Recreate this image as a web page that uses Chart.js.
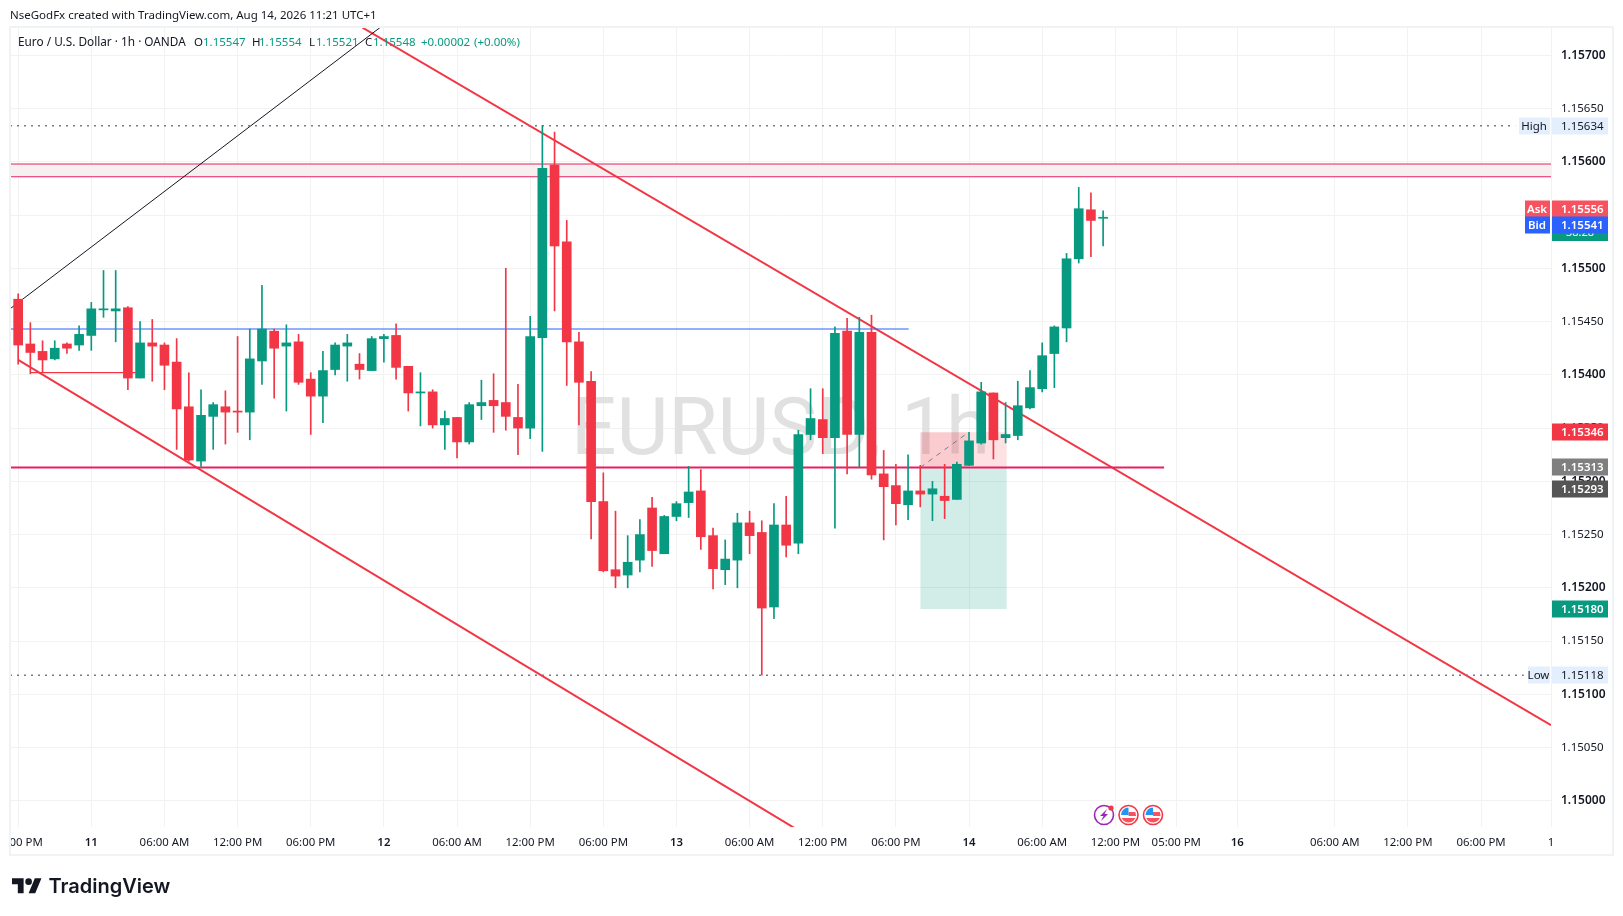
<!DOCTYPE html>
<html><head><meta charset="utf-8">
<style>html,body{margin:0;padding:0;background:#fff}canvas{display:block}</style>
<script src="https://cdn.jsdelivr.net/npm/chart.js@4"></script>
</head><body>
<canvas id="c" width="1623" height="916"></canvas>
<script>
const opens=[1.15471,1.15429,1.15422,1.15415,1.15429,1.15428,1.15437,1.15461,1.15460,1.15463,
1.15397,1.15430,1.15428,1.15412,1.15370,1.15319,1.15361,1.15370,1.15366,1.15365,
1.15413,1.15441,1.15427,1.15431,1.15396,1.15380,1.15405,1.15427,1.15410,1.15404,
1.15434,1.15437,1.15408,1.15383,1.15384,1.15353,1.15360,1.15337,1.15371,1.15376,
1.15374,1.15360,1.15350,1.15435,1.15597,1.15525,1.15431,1.15394,1.15281,1.15217,
1.15212,1.15226,1.15275,1.15232,1.15267,1.15280,1.15291,1.15249,1.15217,1.15226,
1.15261,1.15252,1.15182,1.15259,1.15242,1.15344,1.15358,1.15341,1.15441,1.15344,
1.15440,1.15307,1.15296,1.15278,1.15291,1.15288,1.15286,1.15283,1.15315,1.15336,
1.15383,1.15341,1.15343,1.15369,1.15387,1.15420,1.15444,1.15509,1.15555,1.15547];
const closes=[1.15428,1.15421,1.15414,1.15425,1.15425,1.15438,1.15462,1.15462,1.15462,1.15397,
1.15430,1.15427,1.15409,1.15368,1.15320,1.15362,1.15372,1.15365,1.15365,1.15415,
1.15443,1.15425,1.15430,1.15393,1.15380,1.15404,1.15428,1.15430,1.15405,1.15434,
1.15436,1.15407,1.15383,1.15384,1.15353,1.15359,1.15337,1.15372,1.15374,1.15371,
1.15361,1.15350,1.15436,1.15594,1.15521,1.15431,1.15393,1.15281,1.15216,1.15211,
1.15224,1.15250,1.15235,1.15267,1.15279,1.15290,1.15248,1.15218,1.15227,1.15261,
1.15249,1.15181,1.15259,1.15240,1.15344,1.15359,1.15341,1.15439,1.15344,1.15440,
1.15306,1.15295,1.15279,1.15291,1.15288,1.15293,1.15282,1.15316,1.15338,1.15384,
1.15339,1.15344,1.15371,1.15388,1.15418,1.15445,1.15509,1.15556,1.15545,1.15548];
const highs=[1.15476,1.15449,1.15432,1.15432,1.15430,1.15446,1.15468,1.15498,1.15498,1.15464,
1.15450,1.15452,1.15430,1.15434,1.15402,1.15386,1.15374,1.15385,1.15436,1.15443,
1.15484,1.15443,1.15447,1.15438,1.15402,1.15422,1.15430,1.15438,1.15420,1.15436,
1.15438,1.15448,1.15408,1.15402,1.15386,1.15366,1.15360,1.15374,1.15395,1.15401,
1.15500,1.15391,1.15455,1.15634,1.15628,1.15545,1.15440,1.15403,1.15308,1.15272,
1.15249,1.15264,1.15285,1.15268,1.15281,1.15314,1.15311,1.15256,1.15245,1.15270,
1.15272,1.15263,1.15279,1.15286,1.15348,1.15387,1.15387,1.15445,1.15453,1.15454,
1.15456,1.15329,1.15316,1.15325,1.15315,1.15300,1.15316,1.15318,1.15346,1.15393,
1.15383,1.15374,1.15394,1.15404,1.15430,1.15446,1.15514,1.15576,1.15571,1.15554];
const lows=[1.15410,1.15401,1.15402,1.15414,1.15420,1.15423,1.15423,1.15454,1.15431,1.15386,
1.15397,1.15394,1.15386,1.15330,1.15319,1.15314,1.15330,1.15335,1.15346,1.15339,
1.15391,1.15378,1.15366,1.15391,1.15344,1.15355,1.15400,1.15394,1.15396,1.15404,
1.15412,1.15396,1.15366,1.15352,1.15350,1.15330,1.15322,1.15335,1.15358,1.15346,
1.15348,1.15325,1.15340,1.15328,1.15460,1.15390,1.15353,1.15246,1.15215,1.15200,
1.15200,1.15215,1.15220,1.15232,1.15263,1.15266,1.15236,1.15199,1.15203,1.15200,
1.15232,1.15118,1.15171,1.15229,1.15232,1.15339,1.15326,1.15256,1.15307,1.15313,
1.15302,1.15245,1.15259,1.15264,1.15276,1.15263,1.15265,1.15283,1.15315,1.15335,
1.15321,1.15336,1.15339,1.15368,1.15384,1.15388,1.15431,1.15505,1.15511,1.15521];

const yTicks=[1.15000,1.15050,1.15100,1.15150,1.15200,1.15250,1.15300,1.15350,1.15400,1.15450,1.15500,1.15550,1.15600,1.15650,1.15700];
const yMajorTicks=[1.15000,1.15100,1.15200,1.15300,1.15400,1.15500,1.15600,1.15700];
const xTickBars=[0,6,12,18,24,30,36,42,48,54,60,66,72,78,84,90,95,100,108,114,120,125.74];
const xTickLabels=["06:00 PM","11","06:00 AM","12:00 PM","06:00 PM","12","06:00 AM","12:00 PM","06:00 PM","13","06:00 AM","12:00 PM","06:00 PM","14","06:00 AM","12:00 PM","05:00 PM","16","06:00 AM","12:00 PM","06:00 PM","1"];
const xMajorLabels=["11","12","13","14","16"];

const highPrice=1.15634, lowPrice=1.15118, highEndBar=122.8, lowEndBar=123.5;
const zoneTop=1.15598, zoneBottom=1.15586;
const supportPrice=1.15313, supportEndBar=94;
const blueLinePrice=1.15443, blueLineEndBar=73.05;
const shortLinePrice=1.15402, shortLineStart=1, shortLineEnd=9.65;
const blackLineBars=[-0.67,29.67], blackLinePrices=[1.15462,1.15726];
const upperTrendBars=[28.25,125.74], upperTrendPrices=[1.15726,1.15071];
const lowerTrendBars=[0,63.89], lowerTrendPrices=[1.15414,1.14973];
const positionStart=74, positionEnd=81.1, positionHit=77.95;
const positionStop=1.15346, positionEntry=1.15313, positionTarget=1.15180;

const priceTags=[1.15548,1.15634,1.15118,1.15556,1.15541,1.15346,1.15313,1.15293,1.15180];
const priceTagNames=["","High","Low","Ask","Bid","","","",""];
const priceTagColors=["#089981","#e3effd","#e3effd","#f7525f","#2962ff","#f23645","#7f7f7f","#555555","#089981"];
const countdownText="38:28";
const watermarkText="EURUSD, 1h";
const creditText="NseGodFx created with TradingView.com, Aug 14, 2026 11:21 UTC+1";
const symbolText="Euro / U.S. Dollar · 1h · OANDA";
const ohlcLetters=["O","H","L","C"];
const ohlcValues=["1.15547","1.15554","1.15521","1.15548"];
const changeText="+0.00002", changePctText="(+0.00%)";

const UP="#089981",DOWN="#f23645",CRIMSON="#e91e63";
const FONT="'Noto Sans'";
const isUp=i=>closes[i]>=opens[i];
const candleColors=opens.map((_,i)=>isUp(i)?UP:DOWN);
const seg=(xs,ys)=>xs.map((x,i)=>({x,y:ys[i]}));
const X0=-0.67,X1=125.74;
const line=(data,color,width,extra)=>Object.assign({type:'line',data,borderColor:color,borderWidth:width,pointRadius:0,fill:false,tension:0,order:5},extra||{});
const flat=(a,b,p)=>seg([a,b],[p,p]);

const sceneBack={id:'sceneBack',beforeDatasetsDraw(ch){
  const c=ch.ctx,a=ch.chartArea;
  c.save();c.beginPath();c.rect(a.left,a.top,a.width,a.height);c.clip();
  c.fillStyle='#e1e1e1';c.font="80px Roboto";c.textAlign='center';c.textBaseline='middle';
  c.fillText(watermarkText,(a.left+a.right)/2,434);
  c.restore();
}};
const sceneFront={id:'sceneFront',afterDraw(ch){
  const c=ch.ctx,y=ch.scales.y;
  c.save();
  c.fillStyle='#fff';c.fillRect(0,828,10,26);
  c.strokeStyle='#f0f3f6';c.lineWidth=2;c.strokeRect(10,27,1603,828);
  c.textBaseline='middle';
  c.textAlign='left';c.fillStyle='#131722';c.font="11.5px "+FONT;
  c.fillText(creditText,10,16);
  c.font="11.8px "+FONT;
  c.fillText(symbolText,18,43);
  c.font="11.5px "+FONT;
  const lx=[194,252,309,365],vx=[203,259,316,373];
  ohlcLetters.forEach((t,i)=>{c.fillStyle='#131722';c.fillText(t,lx[i],43);c.fillStyle=UP;c.fillText(ohlcValues[i],vx[i],43);});
  c.fillStyle=UP;c.fillText(changeText,421,43);c.fillText(changePctText,474,43);
  priceTags.forEach((v,i)=>{
    const py=Math.round(y.getPixelForValue(v));
    const col=priceTagColors[i],light=col==='#e3effd',name=priceTagNames[i];
    c.fillStyle=col;
    if(i===0){c.fillRect(1552,py-8,56,32);c.fillStyle='#fff';c.font="11px "+FONT;c.textAlign='left';c.fillText(countdownText,1566,py+16);return;}
    c.fillRect(1552,py-8.5,56,17);
    c.font=(light?"":"600 ")+"11.5px "+FONT;c.textAlign='left';c.fillStyle=light?'#131722':'#fff';
    c.fillText(v.toFixed(5),1561,py+1);
    if(name){const w=name==='High'?32:name==='Low'?23:26;
      c.fillStyle=col;c.fillRect(1551-w,py-8.5,w-1,17);
      c.fillStyle=light?'#131722':'#fff';c.textAlign='center';c.fillText(name,1550-w/2,py+1);}
  });
  [1104,1128.5,1153].forEach((ix,k)=>{
    const iy=815;
    c.beginPath();c.arc(ix,iy,9.5,0,Math.PI*2);c.fillStyle='#fff';c.fill();
    c.lineWidth=1.6;c.strokeStyle=k===0?'#9c27b0':'#f23645';c.stroke();
    if(k===0){
      c.fillStyle='#9c27b0';c.beginPath();c.moveTo(ix+3,iy-6);c.lineTo(ix-4,iy+1);c.lineTo(ix-0.5,iy+1);c.lineTo(ix-3,iy+6);c.lineTo(ix+4,iy-1);c.lineTo(ix+0.5,iy-1);c.closePath();c.fill();
      c.fillStyle='#f23645';c.beginPath();c.arc(ix+7,iy-7,2.6,0,Math.PI*2);c.fill();
    }else{
      c.save();c.beginPath();c.arc(ix,iy,7.5,0,Math.PI*2);c.clip();
      c.fillStyle='#fff';c.fillRect(ix-8,iy-8,16,16);
      c.fillStyle='#f7525f';c.fillRect(ix,iy-3,8,4);c.fillRect(ix-8,iy+3,16,6);
      c.fillStyle='#2196f3';c.fillRect(ix-8,iy-8,8,8);
      c.restore();
    }
  });
  c.fillStyle='#131722';
  c.save();c.translate(12,875);c.scale(0.83,0.83);
  c.fill(new Path2D("M14 22H7V11H0V4h14v18zM28 22h-8l7.5-18h8L28 22z"));
  c.beginPath();c.arc(20,8,4,0,Math.PI*2);c.fill();c.restore();
  c.font="600 20px Inter";c.textAlign='left';c.fillText("TradingView",48.5,887);
  c.restore();
}};

new Chart(document.getElementById('c'),{
  type:'bar',
  data:{datasets:[
    {label:'wicks',data:opens.map((_,i)=>({x:i,y:[lows[i],highs[i]]})),backgroundColor:candleColors,barThickness:1,grouped:false,order:2},
    {label:'bodies',data:opens.map((_,i)=>({x:i,y:[opens[i],closes[i]]})),backgroundColor:candleColors,barThickness:9,grouped:false,order:1},
    line(flat(X0,X1,zoneTop),CRIMSON,1.2,{fill:{value:zoneBottom},backgroundColor:'#f6f0f1',order:7}),
    line(flat(X0,X1,zoneBottom),CRIMSON,1.2,{order:6}),
    line(flat(positionStart,positionEnd,positionStop),'rgba(0,0,0,0)',0,{fill:{value:positionEntry},backgroundColor:'rgba(242,54,69,0.15)',order:8}),
    line(flat(positionStart,positionHit,positionStop),'rgba(0,0,0,0)',0,{fill:{value:positionEntry},backgroundColor:'rgba(242,54,69,0.12)',order:8}),
    line(flat(positionStart,positionEnd,positionEntry),'rgba(0,0,0,0)',0,{fill:{value:positionTarget},backgroundColor:'rgba(8,153,129,0.18)',order:8}),
    line(seg([positionStart,positionHit],[positionEntry,positionStop]),'#787b86',1,{borderDash:[5,5],order:4}),
    line(flat(X0,highEndBar,highPrice),'#787b86',1.5,{borderDash:[2,5]}),
    line(flat(X0,lowEndBar,lowPrice),'#787b86',1.5,{borderDash:[2,5]}),
    line(flat(X0,blueLineEndBar,blueLinePrice),'#2962ff',1.1),
    line(flat(shortLineStart,shortLineEnd,shortLinePrice),DOWN,1.2),
    line(flat(X0,supportEndBar,supportPrice),CRIMSON,2),
    line(seg(blackLineBars,blackLinePrices),'#131722',1),
    line(seg(upperTrendBars,upperTrendPrices),DOWN,2),
    line(seg(lowerTrendBars,lowerTrendPrices),DOWN,2)
  ]},
  options:{
    responsive:false,animation:false,devicePixelRatio:1,
    layout:{padding:{left:10,top:28,right:10,bottom:61}},
    plugins:{legend:{display:false},tooltip:{enabled:false},title:{display:false}},
    scales:{
      x:{type:'linear',position:'bottom',min:X0,max:X1,offset:false,
        border:{display:false},
        grid:{color:'#f2f2f3',lineWidth:1,drawTicks:false,offset:false},
        afterBuildTicks(s){s.ticks=xTickBars.map(v=>({value:v}));},
        afterFit(s){s.height=28;s.paddingLeft=0;s.paddingRight=0;},
        ticks:{autoSkip:false,maxRotation:0,minRotation:0,padding:9,color:'#131722',
          callback:(v,i)=>xTickLabels[i],
          font:ctx=>({family:FONT,size:11.4,weight:xMajorLabels.includes(xTickLabels[ctx.index])?'600':'400'})}
      },
      y:{type:'linear',position:'right',min:1.149754,max:1.157257,beginAtZero:false,
        border:{display:false},
        grid:{color:'#f2f2f3',lineWidth:1,drawTicks:false},
        afterBuildTicks(s){s.ticks=yTicks.map(v=>({value:v}));},
        afterFit(s){s.width=62;s.paddingTop=0;s.paddingBottom=0;},
        ticks:{autoSkip:false,crossAlign:'near',padding:10,color:'#131722',labelOffset:0,
          callback:v=>v.toFixed(5),
          font:ctx=>yMajorTicks.includes(yTicks[ctx.index])?{family:FONT,size:12,weight:'600'}:{family:FONT,size:11.5,weight:'400'}}
      }
    }
  },
  plugins:[sceneBack,sceneFront]
});
</script>
</body></html>
